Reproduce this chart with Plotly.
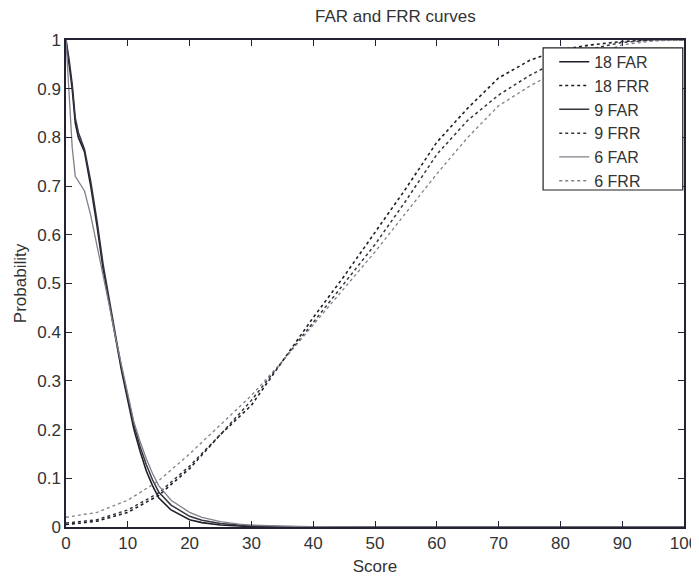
import plotly.graph_objects as go

# ---- data ----
far_score = [0, 0.5, 1, 1.5, 2, 3, 4, 5, 6, 7, 8, 9, 10, 11, 12, 13, 14, 15, 17, 20, 22, 25, 28, 30, 35, 40, 50, 60, 70, 80, 90, 100]
far_18 = [1, 0.95, 0.90, 0.83, 0.80, 0.77, 0.70, 0.62, 0.53, 0.46, 0.39, 0.32, 0.26, 0.20, 0.155, 0.115, 0.085, 0.06, 0.035, 0.015, 0.009, 0.004, 0.002, 0.001, 0.0005, 0, 0, 0, 0, 0, 0, 0]
far_9 = [1, 0.96, 0.91, 0.84, 0.81, 0.775, 0.71, 0.63, 0.54, 0.465, 0.395, 0.325, 0.265, 0.21, 0.165, 0.128, 0.097, 0.072, 0.045, 0.022, 0.014, 0.007, 0.004, 0.002, 0.001, 0, 0, 0, 0, 0, 0, 0]
far_6 = [1, 0.88, 0.78, 0.72, 0.71, 0.69, 0.64, 0.58, 0.52, 0.455, 0.39, 0.33, 0.27, 0.215, 0.175, 0.14, 0.11, 0.085, 0.055, 0.03, 0.02, 0.011, 0.006, 0.004, 0.002, 0.0005, 0, 0, 0, 0, 0, 0]

frr_score = [0, 5, 10, 15, 20, 25, 30, 35, 40, 45, 50, 55, 60, 65, 70, 75, 80, 85, 90, 95, 100]
frr_18 = [0.005, 0.012, 0.03, 0.065, 0.12, 0.19, 0.25, 0.34, 0.43, 0.515, 0.605, 0.695, 0.79, 0.86, 0.922, 0.958, 0.98, 0.99, 0.997, 1.0, 1.0]
frr_9 = [0.008, 0.015, 0.035, 0.07, 0.125, 0.19, 0.26, 0.34, 0.42, 0.50, 0.58, 0.67, 0.765, 0.835, 0.887, 0.927, 0.96, 0.982, 0.995, 1.0, 1.0]
frr_6 = [0.02, 0.03, 0.055, 0.095, 0.15, 0.21, 0.27, 0.34, 0.415, 0.49, 0.565, 0.645, 0.725, 0.80, 0.865, 0.905, 0.94, 0.968, 0.99, 0.998, 1.0]

x_ticks = [0, 10, 20, 30, 40, 50, 60, 70, 80, 90, 100]
x_tick_labels = ["0", "10", "20", "30", "40", "50", "60", "70", "80", "90", "100"]
y_ticks = [0, 0.1, 0.2, 0.3, 0.4, 0.5, 0.6, 0.7, 0.8, 0.9, 1]
y_tick_labels = ["0", "0.1", "0.2", "0.3", "0.4", "0.5", "0.6", "0.7", "0.8", "0.9", "1"]

dark = "#1e1e2a"
mid = "#34343e"
light = "#80808a"
dots = "3px,3px"
axis_col = "#222233"
fam = "Liberation Sans, Arial, sans-serif"

fig = go.Figure()
fig.add_trace(go.Scatter(x=far_score, y=far_18, name="18 FAR", mode="lines", line=dict(color=dark, width=1.6)))
fig.add_trace(go.Scatter(x=frr_score, y=frr_18, name="18 FRR", mode="lines", line=dict(color=dark, width=1.6, dash=dots)))
fig.add_trace(go.Scatter(x=far_score, y=far_9, name="9 FAR", mode="lines", line=dict(color=mid, width=1.5)))
fig.add_trace(go.Scatter(x=frr_score, y=frr_9, name="9 FRR", mode="lines", line=dict(color=mid, width=1.5, dash=dots)))
fig.add_trace(go.Scatter(x=far_score, y=far_6, name="6 FAR", mode="lines", line=dict(color=light, width=1.3)))
fig.add_trace(go.Scatter(x=frr_score, y=frr_6, name="6 FRR", mode="lines", line=dict(color=light, width=1.3, dash=dots)))

# legend frame (white box drawn over the curves)
fig.add_shape(type="rect", xref="paper", yref="paper", x0=0.772, x1=0.998, y0=0.692, y1=0.984,
              line=dict(color="#222222", width=1.2), fillcolor="white", layer="above")

fig.update_layout(
    width=691, height=570,
    margin=dict(l=58, r=15, t=32, b=51, autoexpand=False),
    paper_bgcolor="white", plot_bgcolor="white",
    font=dict(family=fam, size=17, color="#333333"),
    title=dict(text="FAR and FRR curves", x=0.533, xanchor="center", xref="paper",
               y=1 - 8 / 570, yanchor="middle", yref="container",
               font=dict(family=fam, size=17, color="#333333")),
    showlegend=True,
    legend=dict(x=0.79, y=0.99, xanchor="left", yanchor="top",
                bgcolor="rgba(0,0,0,0)", borderwidth=0,
                font=dict(family=fam, size=16, color="#333333"),
                tracegroupgap=0, itemwidth=30),
)
fig.update_xaxes(range=[0, 100], tickvals=x_ticks, ticktext=x_tick_labels,
                 ticks="inside", ticklen=6, tickcolor=axis_col, showline=True, linecolor=axis_col,
                 linewidth=1.5, mirror="ticks", showgrid=False, zeroline=False, automargin=False,
                 tickfont=dict(family=fam, size=17, color="#333333"),
                 title=dict(text="Score", standoff=8, font=dict(family=fam, size=17, color="#333333")))
fig.update_yaxes(range=[0, 1], tickvals=y_ticks, ticktext=y_tick_labels,
                 ticks="inside", ticklen=6, tickcolor=axis_col, showline=True, linecolor=axis_col,
                 linewidth=1.5, mirror="ticks", showgrid=False, zeroline=False, automargin=False,
                 tickfont=dict(family=fam, size=17, color="#333333"),
                 title=dict(text="Probability", standoff=6, font=dict(family=fam, size=17, color="#333333")))

fig.write_html("out.html")
